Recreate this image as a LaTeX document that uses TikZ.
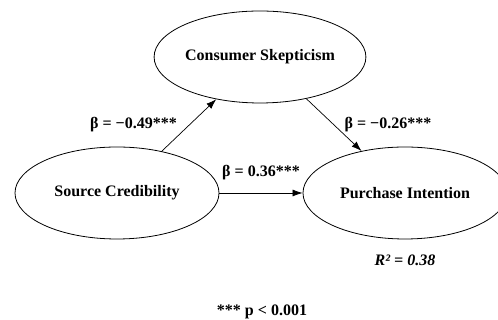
\documentclass[tikz,border=0pt]{standalone}
\usepackage{fontspec}
\setmainfont{Liberation Serif}
\usetikzlibrary{shapes.geometric,arrows.meta}
\begin{document}
\begin{tikzpicture}[x=1pt,y=1pt,
  latent/.style={ellipse,draw,line width=0.8pt,inner sep=0pt,minimum width=204pt,minimum height=92pt,font=\fontsize{16}{19}\selectfont\bfseries},
  path/.style={line width=0.7pt,-{Latex[length=10pt,width=7pt]}},
  coef/.style={font=\fontsize{16}{19}\selectfont\bfseries,inner sep=0pt}]
\useasboundingbox (0,0) rectangle (498,320);
\clip (0,0) rectangle (498,320);
\node[latent] (CS) at (260,263) {Consumer Skepticism};
\node[latent] (SC) at (117,127) {Source Credibility};
\node[latent] (PI) at (405,127) {Purchase Intention};
\draw[path] (SC.43) -- (CS.224);
\draw[path] (CS.318) -- (PI.136);
\draw[path] (SC.east) -- (PI.west);
\node[coef] (l1) at (133.5,195) {β = −0.49***};
\node[coef] (l2) at (388,195) {β = −0.26***};
\node[coef] (l3) at (261,147) {β = 0.36***};
\node[coef] (r2) at (405,60) {\itshape R² = 0.38};
\node[coef] (fn) at (262,8) {*** p < 0.001};
\end{tikzpicture}
\end{document}
